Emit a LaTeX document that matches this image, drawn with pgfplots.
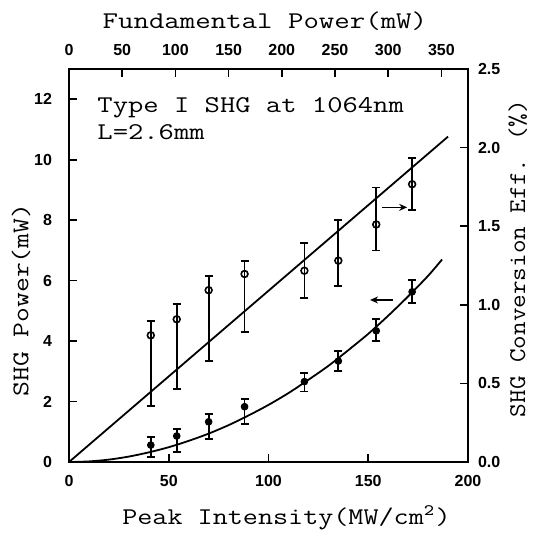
\documentclass[border=0pt]{standalone}
\usepackage{pgfplots}
\pgfplotsset{compat=1.18}
\usepackage{pgfplotstable}
\usepackage{fontspec}
\newfontfamily\tickfont{Liberation Sans}
\usetikzlibrary{arrows.meta}

\pgfplotstableread{
x   y     ep    em
41  0.56  0.28  0.40
54  0.86  0.22  0.52
70  1.33  0.26  0.58
88  1.83  0.26  0.57
118 2.66  0.29  0.33
135 3.34  0.34  0.33
154 4.34  0.40  0.35
172 5.63  0.39  0.38
}\filled

\pgfplotstableread{
x   y      ep     em
41  0.806  0.090  0.448
54  0.908  0.096  0.443
70  1.093  0.092  0.452
88  1.196  0.085  0.367
118 1.217  0.175  0.175
135 1.281  0.260  0.160
154 1.511  0.235  0.166
172 1.767  0.168  0.162
}\open

\pgfplotsset{
  common/.style={
    scale only axis, width=199.5pt, height=196.5pt,
    xmin=0, xmax=200,
    tick align=inside, major tick length=4pt,
    axis line style={line width=1pt},
    every tick/.style={line width=0.8pt, black},
    tick label style={font=\tickfont\bfseries\fontsize{8}{9}\selectfont},
    /pgf/number format/assume math mode=true,
    label style={font=\ttfamily\fontsize{12}{14}\selectfont},
    clip=false,
  },
  ebar/.style={
    error bars/.cd, y dir=both, y explicit,
    error bar style={line width=0.9pt, black},
    error mark options={rotate=90, line width=0.9pt, black, mark size=2pt},
  },
}

\begin{document}
\begin{tikzpicture}
% main axis: left y, bottom x
\begin{axis}[common,
  ymin=0, ymax=13,
  xtick={0,50,100,150,200}, ytick={0,2,4,6,8,10,12},
  xtick pos=lower, ytick pos=left,
  xticklabel style={yshift=-3pt},
  yticklabel style={xshift=-5pt},
  xlabel={Peak Intensity(MW/cm\textsuperscript{2})},
  ylabel={SHG Power(mW)},
  xlabel style={at={(axis description cs:0.545,-0.158)}, anchor=base, xscale=1.22},
  ylabel style={at={(axis description cs:-0.12,0.412)}, anchor=center, xscale=1.2},
]
\addplot[black, line width=0.9pt, smooth] coordinates {
(0,0) (10,0.02) (20,0.08) (30,0.18) (40,0.32) (50,0.49) (60,0.70) (70,0.94)
(80,1.22) (90,1.54) (100,1.89) (110,2.28) (120,2.72) (130,3.18) (140,3.70)
(150,4.24) (160,4.84) (170,5.48) (180,6.16) (187,6.70)};
\addplot[black, only marks, mark=*, mark size=1.7pt, ebar]
  table[x=x, y=y, y error plus=ep, y error minus=em] {\filled};
\draw[black, line width=0.8pt, -{Stealth[length=4pt, width=3.5pt]}]
  (axis cs:162.4,5.36) -- (axis cs:150.9,5.36);
\node[anchor=base west, font=\ttfamily\fontsize{12}{14}\selectfont, inner sep=0pt, xscale=1.24]
  at (axis cs:14,11.55) {Type I SHG at 1064nm};
\node[anchor=base west, font=\ttfamily\fontsize{12}{14}\selectfont, inner sep=0pt, xscale=1.24]
  at (axis cs:14,10.68) {L=2.6mm};
\end{axis}

% right axis
\begin{axis}[common,
  ymin=0, ymax=2.5,
  hide x axis, ytick pos=right,
  ytick={0,0.5,1,1.5,2,2.5},
  yticklabel style={/pgf/number format/.cd, fixed, fixed zerofill, precision=1, /tikz/.cd, xshift=1.5pt},
  ylabel={SHG Conversion Eff. (\%)},
  ylabel style={at={(axis description cs:1.125,0.518)}, anchor=center, xscale=1.1},
]
\addplot[black, line width=0.9pt] coordinates {(0,0) (190,2.07)};
\addplot[black, only marks, mark=o, mark size=1.7pt, mark options={fill=white, line width=0.8pt}, ebar]
  table[x=x, y=y, y error plus=ep, y error minus=em] {\open};
\draw[black, line width=0.8pt, -{Stealth[length=4pt, width=3.5pt]}]
  (axis cs:157,1.62) -- (axis cs:169.5,1.62);
\end{axis}

% top axis
\begin{axis}[common,
  xmin=0, xmax=375, ymin=0, ymax=1,
  hide y axis, xtick pos=upper,
  xtick={0,50,100,150,200,250,300,350},
  xticklabel style={yshift=3pt},
  xlabel={Fundamental Power(mW)},
  xlabel style={at={(axis description cs:0.491,1.104)}, anchor=base, xscale=1.25},
]
\addplot[draw=none] coordinates {(0,0)};
\end{axis}

\path (-34.5pt,-35.5pt) rectangle (237.5pt,231pt);
\end{tikzpicture}
\end{document}
